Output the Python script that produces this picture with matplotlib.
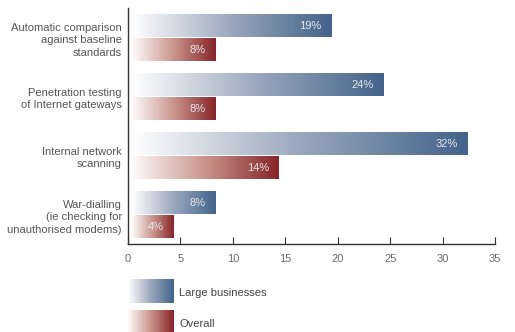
import matplotlib
matplotlib.use("Agg")
import matplotlib.pyplot as plt
from matplotlib.colors import LinearSegmentedColormap
import numpy as np

categories = ["Automatic comparison\nagainst baseline\nstandards",
              "Penetration testing\nof Internet gateways",
              "Internal network\nscanning",
              "War-dialling\n(ie checking for\nunauthorised modems)"]
large = [19, 24, 32, 8]
overall = [8, 8, 14, 4]
series_names = ["Large businesses", "Overall"]
xticks = [0, 5, 10, 15, 20, 25, 30, 35]

plt.rcParams['font.family'] = ['Liberation Sans', 'DejaVu Sans']

blue_cm = LinearSegmentedColormap.from_list("b", ["#ffffff", "#9aa7bd", "#43638a"])
red_cm = LinearSegmentedColormap.from_list("r", ["#fefbfa", "#c9948c", "#862429"])
grad = np.linspace(0, 1, 256).reshape(1, -1)

W, H = 515, 332
fig = plt.figure(figsize=(W / 100, H / 100), dpi=100)
ax = fig.add_axes([128 / W, 88 / H, 367 / W, 236 / H])

gap = 0.35
bh = 0.373
off = 0.203


def gbar(ax, y, v, cmap):
    ax.imshow(grad, cmap=cmap, aspect='auto', interpolation='bilinear',
              extent=[gap, v + gap, y + bh / 2, y - bh / 2], zorder=2)
    ax.text(v + gap - 0.9, y, f"{v}%", ha='right', va='center',
            color='#e6e6ec', fontsize=8, zorder=3)


for i, (a, b) in enumerate(zip(large, overall)):
    c = i + 0.508
    gbar(ax, c - off, a, blue_cm)
    gbar(ax, c + off, b, red_cm)

ax.set_xlim(0, 35)
ax.set_ylim(4, 0)
ax.set_yticks([i + 0.508 for i in range(len(categories))])
ax.set_yticklabels(categories, fontsize=8, color='#555555', ha='right',
                   linespacing=1.3)
ax.tick_params(axis='y', length=0, pad=4.5)
ax.set_xticks(xticks)
ax.tick_params(axis='x', direction='in', length=5, labelsize=8,
               labelcolor='#6a6a6a', color='#333333', pad=7)
for s in ['top', 'right']:
    ax.spines[s].set_visible(False)
for s in ['left', 'bottom']:
    ax.spines[s].set_color('#333333')
    ax.spines[s].set_linewidth(1.0)

# legend with gradient swatches
lax = fig.add_axes([0, 0, 1, 1])
lax.axis('off')
for k, (name, cm) in enumerate(zip(series_names, [blue_cm, red_cm])):
    top = 279 + k * 31
    lax.imshow(grad, cmap=cm, aspect='auto', interpolation='bilinear',
               extent=[128, 174, top + 24, top])
    lax.text(179, top + 14, name, ha='left', va='center', fontsize=8, color='#444444')
lax.set_xlim(0, W)
lax.set_ylim(H, 0)

fig.savefig("out.png", dpi=100)
